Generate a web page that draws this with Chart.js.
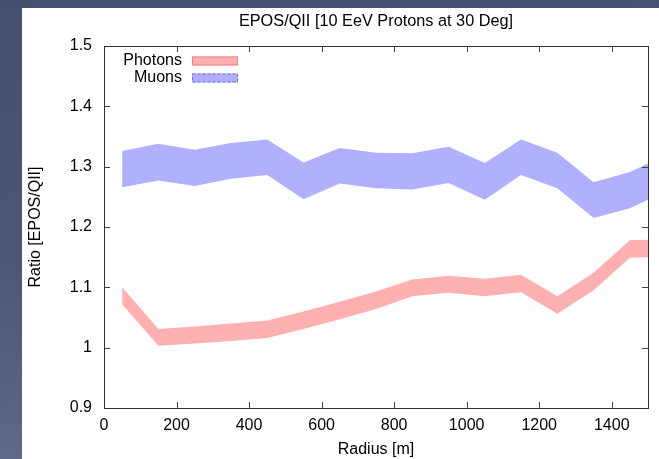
<!DOCTYPE html>
<html>
<head>
<meta charset="utf-8">
<script src="https://cdn.jsdelivr.net/npm/chart.js@4/dist/chart.umd.min.js"></script>
<style>
  html, body { margin: 0; padding: 0; }
  body {
    width: 659px; height: 459px; position: relative; overflow: hidden;
    background: linear-gradient(170deg, #44506f 0%, #4b5677 45%, #6a7192 100%);
  }
  #panel { position: absolute; left: 22px; top: 8px; width: 637px; height: 451px; background: #fff; }
</style>
</head>
<body>
<div id="panel"><canvas id="chart" width="637" height="451"></canvas></div>
<script>
// radius bins (m); the last value is read at the right edge of the axis
const radius = [50, 150, 250, 350, 450, 550, 650, 750, 850, 950, 1050, 1150, 1250, 1350, 1450, 1500];

const photonsUpper = [1.100, 1.031, 1.035, 1.040, 1.045, 1.060, 1.076, 1.093, 1.113, 1.119, 1.114, 1.121, 1.085, 1.124, 1.178, 1.179];
const photonsLower = [1.072, 1.003, 1.007, 1.011, 1.016, 1.031, 1.047, 1.064, 1.085, 1.091, 1.085, 1.092, 1.056, 1.095, 1.149, 1.150];

const muonsUpper = [1.326, 1.338, 1.328, 1.339, 1.345, 1.307, 1.331, 1.323, 1.322, 1.333, 1.306, 1.345, 1.323, 1.274, 1.291, 1.305];
const muonsLower = [1.266, 1.277, 1.268, 1.280, 1.286, 1.246, 1.272, 1.264, 1.262, 1.273, 1.245, 1.286, 1.264, 1.215, 1.231, 1.245];

const xTicks = [0, 200, 400, 600, 800, 1000, 1200, 1400];
const yTicks = [0.9, 1.0, 1.1, 1.2, 1.3, 1.4, 1.5];

const toPts = (ys) => ys.map((y, i) => ({ x: radius[i], y }));

Chart.defaults.font.family = '"Liberation Sans", Arial, Helvetica, sans-serif';
Chart.defaults.color = '#000';

// gnuplot style legend: text on the left, swatch on the right
const legendPlugin = {
  id: 'gpLegend',
  afterDatasetsDraw(chart) {
    const ctx = chart.ctx;
    const area = chart.chartArea;
    const entries = [
      { label: 'Photons', fill: '#ffb0b0', stroke: '#ff8080', dash: [] },
      { label: 'Muons', fill: '#b0b0ff', stroke: '#6c6cff', dash: [3, 2] }
    ];
    ctx.save();
    ctx.font = '16px "Liberation Sans", Arial, sans-serif';
    ctx.textAlign = 'right';
    ctx.textBaseline = 'middle';
    entries.forEach((e, i) => {
      const cy = area.top + 15 + i * 17;
      ctx.fillStyle = '#000';
      ctx.fillText(e.label, area.left + 78, cy);
      ctx.fillStyle = e.fill;
      ctx.fillRect(area.left + 88, cy - 4.5, 46, 9);
      ctx.strokeStyle = e.stroke;
      ctx.lineWidth = 1;
      ctx.setLineDash(e.dash);
      ctx.strokeRect(area.left + 88.5, cy - 4, 45, 8);
    });
    ctx.restore();
  }
};

// frame and inward tick marks on all four sides
const framePlugin = {
  id: 'gpFrame',
  afterDatasetsDraw(chart) {
    const ctx = chart.ctx;
    const { left, right, top, bottom } = chart.chartArea;
    const xs = chart.scales.x, ys = chart.scales.y;
    const len = 6;
    ctx.save();
    // keep the filled bands inside the frame
    ctx.fillStyle = '#fff';
    ctx.fillRect(right, top - 2, chart.width - right, bottom - top + 4);
    ctx.strokeStyle = '#444';
    ctx.lineWidth = 1;
    ctx.beginPath();
    xTicks.forEach(v => {
      const px = Math.round(xs.getPixelForValue(v)) + 0.5;
      ctx.moveTo(px, bottom); ctx.lineTo(px, bottom - len);
      ctx.moveTo(px, top); ctx.lineTo(px, top + len);
    });
    yTicks.forEach(v => {
      const py = Math.round(ys.getPixelForValue(v)) + 0.5;
      ctx.moveTo(left, py); ctx.lineTo(left + len, py);
      ctx.moveTo(right, py); ctx.lineTo(right - len, py);
    });
    ctx.stroke();
    ctx.strokeStyle = '#333';
    ctx.strokeRect(Math.round(left) + 0.5, Math.round(top) + 0.5, Math.round(right - left), Math.round(bottom - top));
    ctx.restore();
  }
};

const band = {
  borderWidth: 0, borderColor: 'rgba(0,0,0,0)', clip: 0,
  pointRadius: 0, pointBorderWidth: 0, pointHitRadius: 0, tension: 0
};

new Chart(document.getElementById('chart'), {
  type: 'line',
  data: {
    datasets: [
      { ...band, label: 'Photons', data: toPts(photonsUpper), fill: '+1', backgroundColor: '#ffb0b0' },
      { ...band, label: 'PhotonsLow', data: toPts(photonsLower), fill: false },
      { ...band, label: 'Muons', data: toPts(muonsUpper), fill: '+1', backgroundColor: '#b0b0ff' },
      { ...band, label: 'MuonsLow', data: toPts(muonsLower), fill: false }
    ]
  },
  options: {
    responsive: false,
    animation: false,
    layout: { padding: { right: 11 } },
    plugins: {
      legend: { display: false },
      tooltip: { enabled: false },
      title: {
        display: true,
        fullSize: false,
        text: 'EPOS/QII [10 EeV Protons at 30 Deg]',
        font: { size: 16.3, weight: 'normal' },
        color: '#000',
        padding: { top: 4, bottom: 14.4 }
      }
    },
    scales: {
      x: {
        type: 'linear',
        min: 0,
        max: 1500,
        afterBuildTicks: (s) => { s.ticks = xTicks.map(v => ({ value: v })); },
        afterFit: (s) => { s.height = 51; },
        grid: { display: false, drawTicks: false },
        border: { display: false },
        ticks: { padding: 8, font: { size: 16 }, color: '#000', maxRotation: 0, callback: (v) => String(v) },
        title: { display: true, text: 'Radius [m]', font: { size: 16 }, color: '#000', padding: { top: 0, bottom: 0 } }
      },
      y: {
        min: 0.9,
        max: 1.5,
        afterBuildTicks: (s) => { s.ticks = yTicks.map(v => ({ value: v })); },
        afterFit: (s) => { s.width = 82; },
        grid: { display: false, drawTicks: false },
        border: { display: false },
        ticks: { padding: 12, font: { size: 16 }, color: '#000', callback: (v) => String(Number(v.toFixed(1))) },
        title: { display: true, text: 'Ratio [EPOS/QII]', font: { size: 16 }, color: '#000', padding: { top: 3.5, bottom: 0 } }
      }
    }
  },
  plugins: [legendPlugin, framePlugin]
});
</script>
</body>
</html>
